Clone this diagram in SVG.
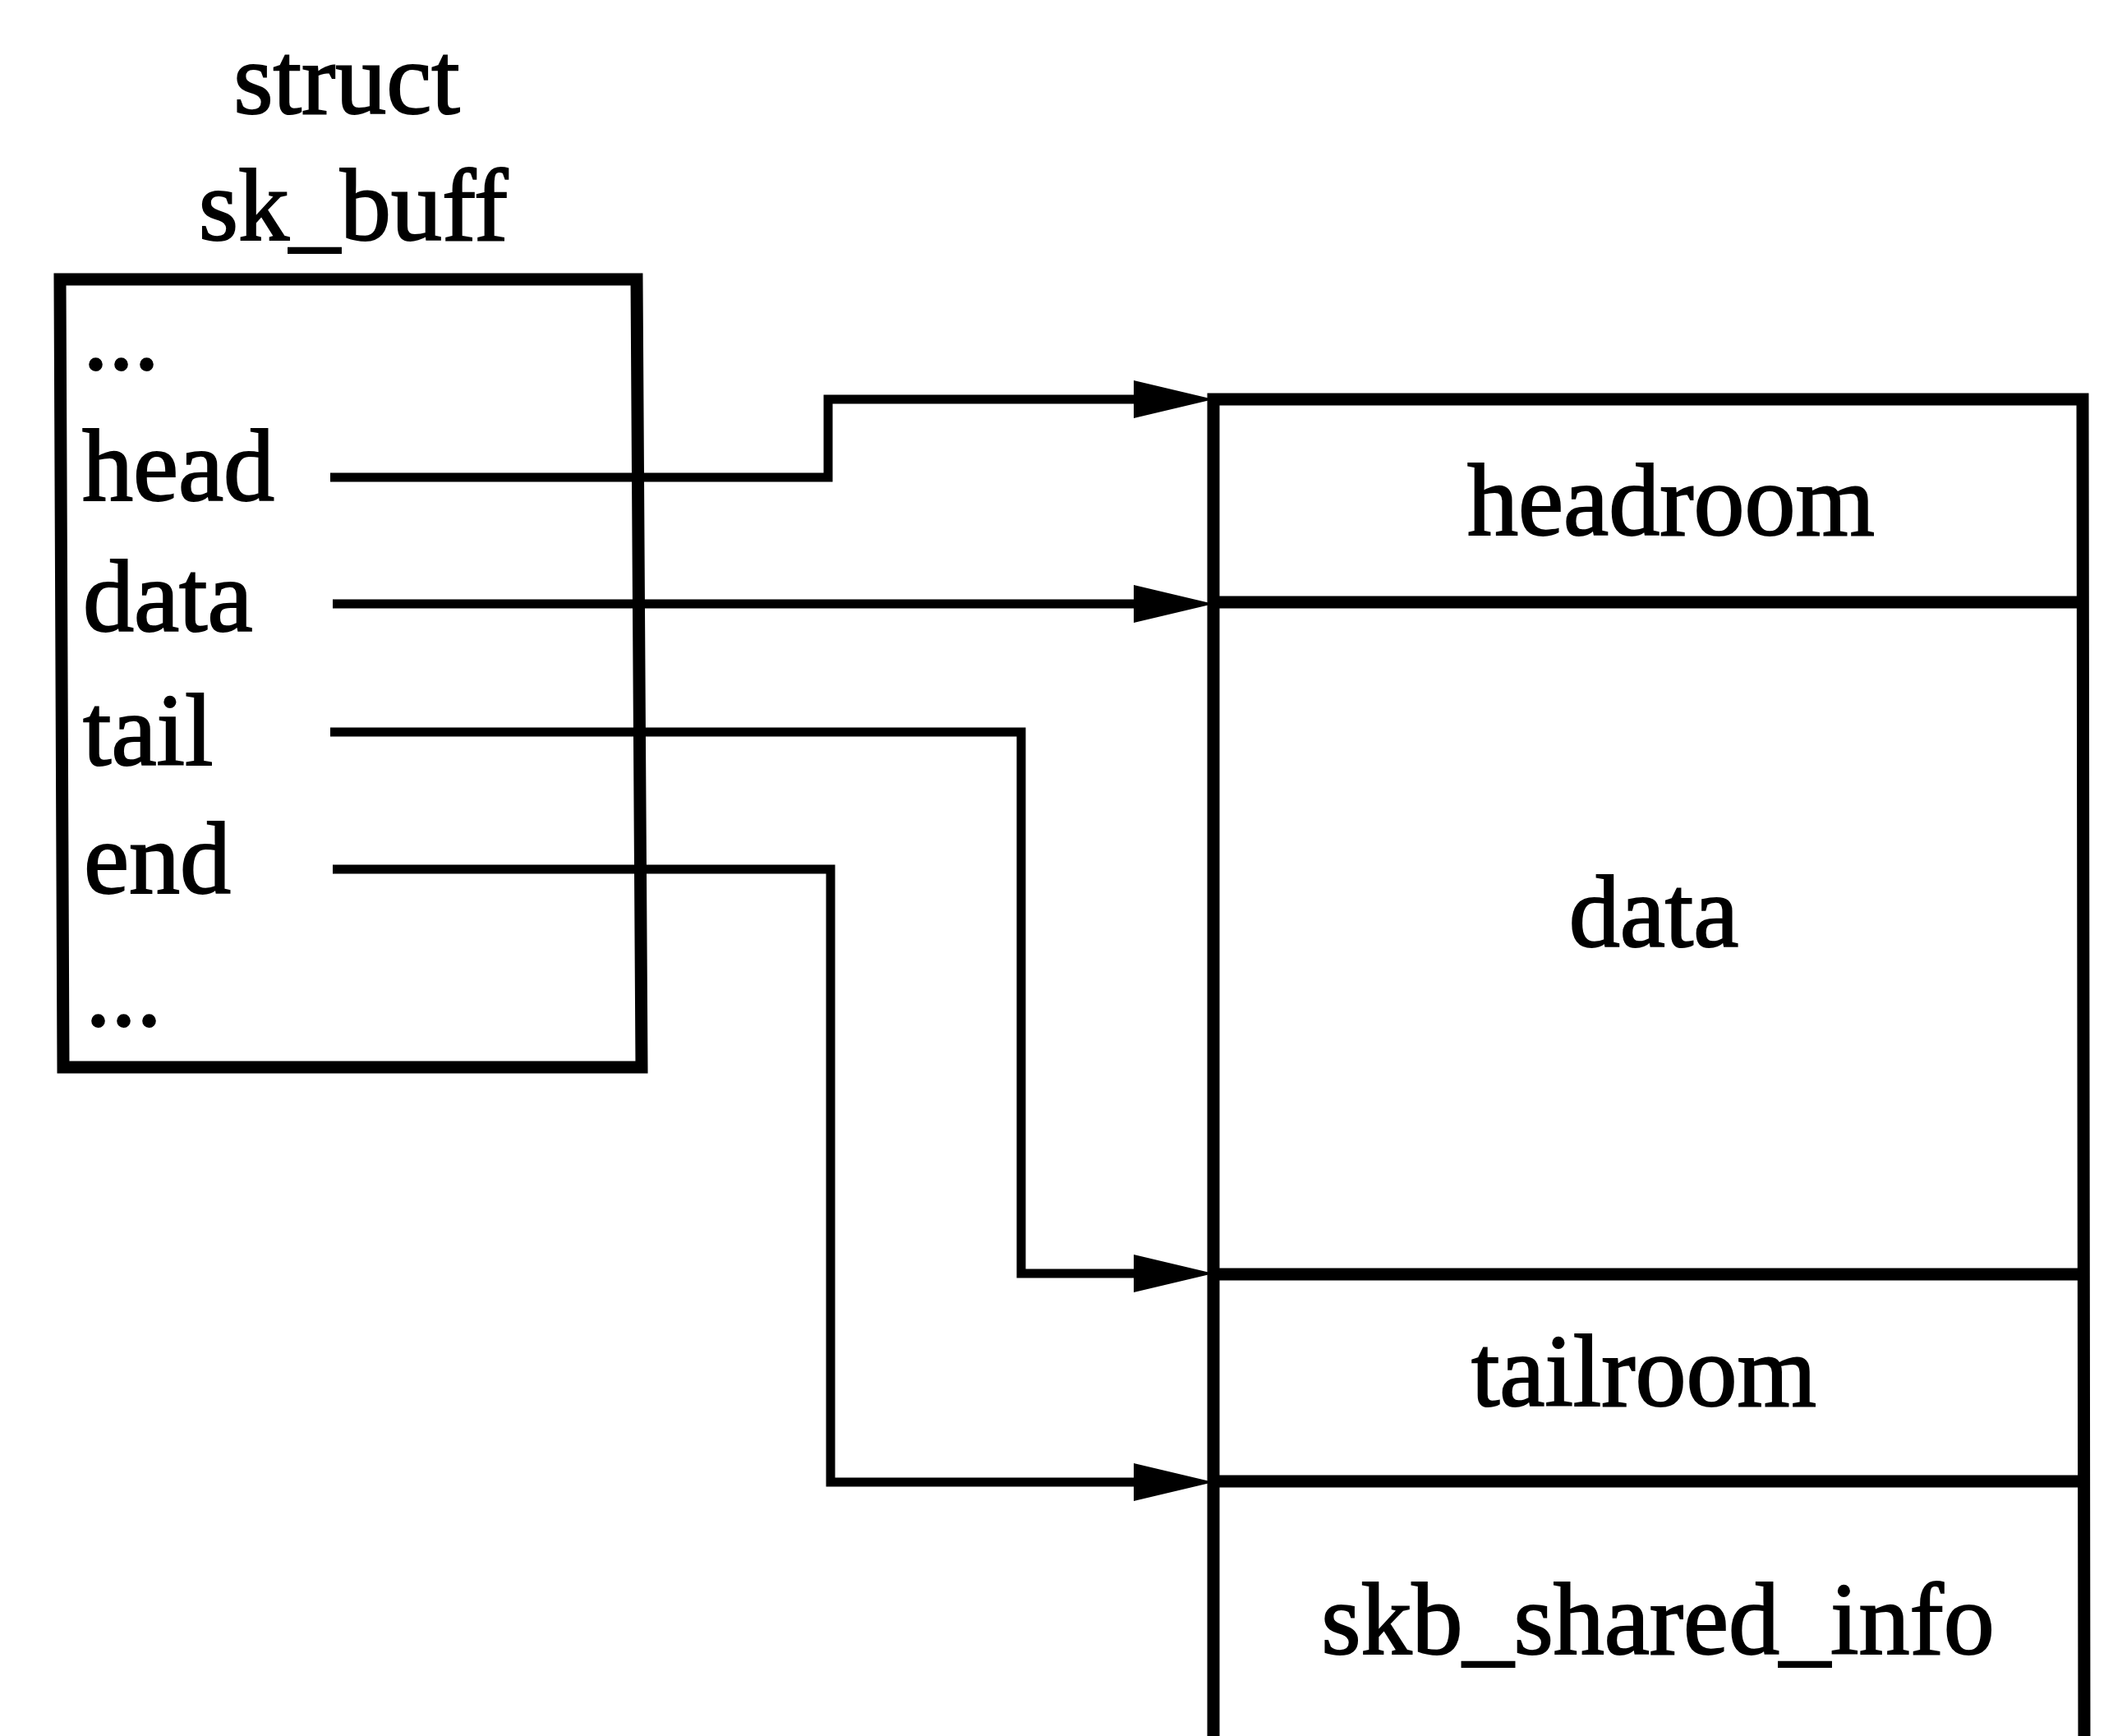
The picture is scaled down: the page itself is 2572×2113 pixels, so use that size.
<svg xmlns="http://www.w3.org/2000/svg" width="2572" height="2113" viewBox="0 0 2572 2113">
<style>
  text { font-family: "Liberation Serif", "Times New Roman", serif; font-size: 124px; fill: #000; stroke: #000; stroke-width: 2; }
  .mid { text-anchor: middle; }
  .box { fill: none; stroke: #000; stroke-width: 15; stroke-linejoin: miter; }
  .rbox { fill: none; stroke: #000; stroke-width: 15; stroke-linejoin: miter; }
  .conn { fill: none; stroke: #000; stroke-width: 11; stroke-linejoin: miter; }
</style>
<defs>
  <marker id="arrow" markerUnits="userSpaceOnUse" viewBox="0 0 97 46" markerWidth="97" markerHeight="46" refX="8" refY="23" orient="auto">
    <path d="M0,0 L97,23 L0,46 Z" fill="#000"/>
  </marker>
</defs>
<rect width="2572" height="2113" fill="#fff"/>

<g id="sk_buff">
  <text class="mid" x="422" y="138">struct</text>
  <text class="mid" x="430" y="292">sk_buff</text>
  <path class="box" d="M73,340 L775,340 L781,1299 L77,1299 Z"/>
  <text x="101" y="449">...</text>
  <text x="100" y="609">head</text>
  <text x="101" y="768">data</text>
  <text x="101" y="931">tail</text>
  <text x="102" y="1087">end</text>
  <text x="104" y="1248">...</text>
</g>

<g id="buffer">
  <path class="rbox" d="M1477,2125 L1477,486 L2535,486 L2537,2125"/>
  <line class="rbox" x1="1477" y1="733" x2="2536" y2="733"/>
  <line class="rbox" x1="1478" y1="1551" x2="2537" y2="1551"/>
  <line class="rbox" x1="1478" y1="1803" x2="2537" y2="1803"/>
</g>
<g id="headroom"><text class="mid" x="2034" y="651">headroom</text></g>
<g id="data"><text class="mid" x="2013" y="1152">data</text></g>
<g id="tailroom"><text class="mid" x="2001" y="1711">tailroom</text></g>
<g id="skb_shared_info"><text class="mid" x="2018" y="2013">skb_shared_info</text></g>

<g id="connectors">
  <path class="conn" d="M402,581 H1008 V486 H1388" marker-end="url(#arrow)"/>
  <path class="conn" d="M405,735 H1388" marker-end="url(#arrow)"/>
  <path class="conn" d="M402,891 H1243 V1550 H1388" marker-end="url(#arrow)"/>
  <path class="conn" d="M405,1058 H1011 V1804 H1388" marker-end="url(#arrow)"/>
</g>
</svg>
